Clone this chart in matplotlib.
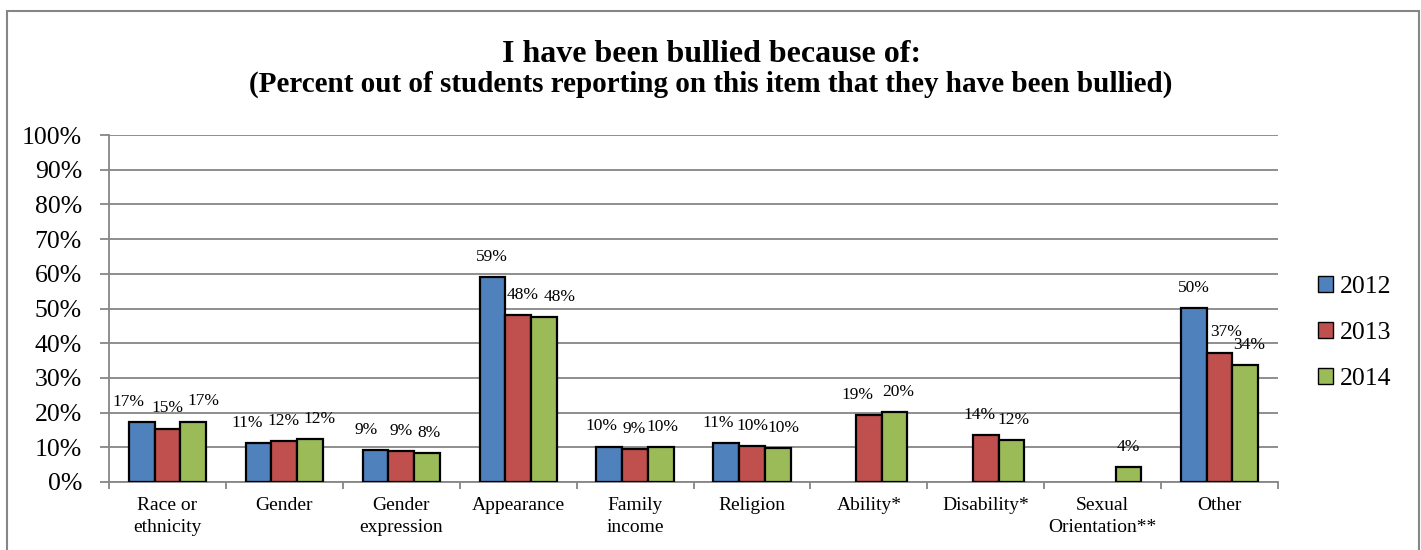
import numpy as np
import matplotlib
matplotlib.use("Agg")
import matplotlib.pyplot as plt
from matplotlib.patches import Rectangle

plt.rcParams['font.family'] = ['Liberation Serif', 'DejaVu Serif']

# Данные: доля учащихся (%), сообщивших о травле по каждой причине
categories = ["Race or\nethnicity", "Gender", "Gender\nexpression", "Appearance",
              "Family\nincome", "Religion", "Ability*", "Disability*",
              "Sexual\nOrientation**", "Other"]
years = ["2012", "2013", "2014"]
vals_2012 = [17.3, 11.3, 9.3, 59.1, 10.2, 11.2, np.nan, np.nan, np.nan, 50.1]
vals_2013 = [15.4, 11.9, 8.8, 48.2, 9.4, 10.3, 19.4, 13.6, np.nan, 37.3]
vals_2014 = [17.4, 12.4, 8.3, 47.6, 10.0, 9.9, 20.2, 12.2, 4.4, 33.6]
colors = ["#4F81BD", "#C0504D", "#9BBB59"]

# сдвиг подписей по горизонтали (px), чтобы соседние подписи не налезали
nudge_2012 = [-13, -11, -9, -1, -8, -8, 0, 0, 0, 0]
nudge_2013 = [0, -1, 0, 4, -1, 1, -11, -6, 0, 7]
nudge_2014 = [10, 9, 2, 16, 2, 6, 4, 2, 0, 4]

GRID = "#868686"
PX = 0.72  # пунктов в одном пикселе при dpi=100


def draw_chart():
    fig = plt.figure(figsize=(14.21, 5.5), dpi=100)
    ax = fig.add_axes([109 / 1421, 68 / 550, 1169 / 1421, 347 / 550])

    x = np.arange(len(categories))
    w = 0.22
    series = [vals_2012, vals_2013, vals_2014]
    nudges = [nudge_2012, nudge_2013, nudge_2014]
    for i, (vals, dxs, col, yr) in enumerate(zip(series, nudges, colors, years)):
        pos = x + (i - 1) * w
        v = np.array(vals, dtype=float)
        ax.bar(pos, v, width=w, color=col, edgecolor="black",
               linewidth=1.6, label=yr, zorder=3)
        for px, py, dx in zip(pos, v, dxs):
            if np.isnan(py):
                continue
            ax.annotate(f"{py:.0f}%", (px, py), xytext=(dx * PX, 14.5),
                        textcoords="offset points", ha="center", va="center",
                        fontsize=12.5, zorder=4)

    ax.set_xlim(-0.5, len(categories) - 0.5)
    ax.set_ylim(0, 100)
    ax.set_yticks(np.arange(0, 101, 10))
    ax.set_yticklabels([f"{t}%" for t in range(0, 101, 10)], fontsize=18.5)
    ax.tick_params(axis="y", length=6.5, width=1.3, color=GRID, pad=13)

    ax.set_xticks(x)
    ax.set_xticklabels(categories, fontsize=14, linespacing=1.34)
    ax.set_xticks(np.arange(-0.5, len(categories)), minor=True)
    ax.tick_params(axis="x", which="major", length=0, pad=11)
    ax.tick_params(axis="x", which="minor", length=5, width=1.3, color=GRID)

    ax.yaxis.grid(True, color=GRID, linewidth=1.3, zorder=0)
    ax.set_axisbelow(True)
    for s in ["top", "right"]:
        ax.spines[s].set_visible(False)
    for s in ["left", "bottom"]:
        ax.spines[s].set_color(GRID)
        ax.spines[s].set_linewidth(1.3)

    leg = ax.legend(loc="center left", bbox_to_anchor=(1318 / 1421, 1 - 333 / 550),
                    bbox_transform=fig.transFigure, frameon=False, fontsize=18.5,
                    handlelength=0.6, handleheight=0.6, handletextpad=0.25,
                    labelspacing=0.92, borderpad=0, borderaxespad=0)
    for h in leg.legend_handles:
        h.set_linewidth(1.0)

    fig.text(0.501, 1 - 62 / 550, "I have been bullied because of:",
             ha="center", va="baseline", fontsize=23, fontweight="bold")
    fig.text(0.5, 1 - 92 / 550,
             "(Percent out of students reporting on this item that they have been bullied)",
             ha="center", va="baseline", fontsize=21, fontweight="bold")

    # рамка вокруг всей диаграммы
    fig.patches.append(Rectangle((7 / 1421, -0.1), 1412 / 1421, 1.1 - 11 / 550,
                                 transform=fig.transFigure, fill=False,
                                 edgecolor=GRID, linewidth=1.5))

    fig.savefig("out.png", dpi=100)


def main():
    draw_chart()


if __name__ == "__main__":
    main()
